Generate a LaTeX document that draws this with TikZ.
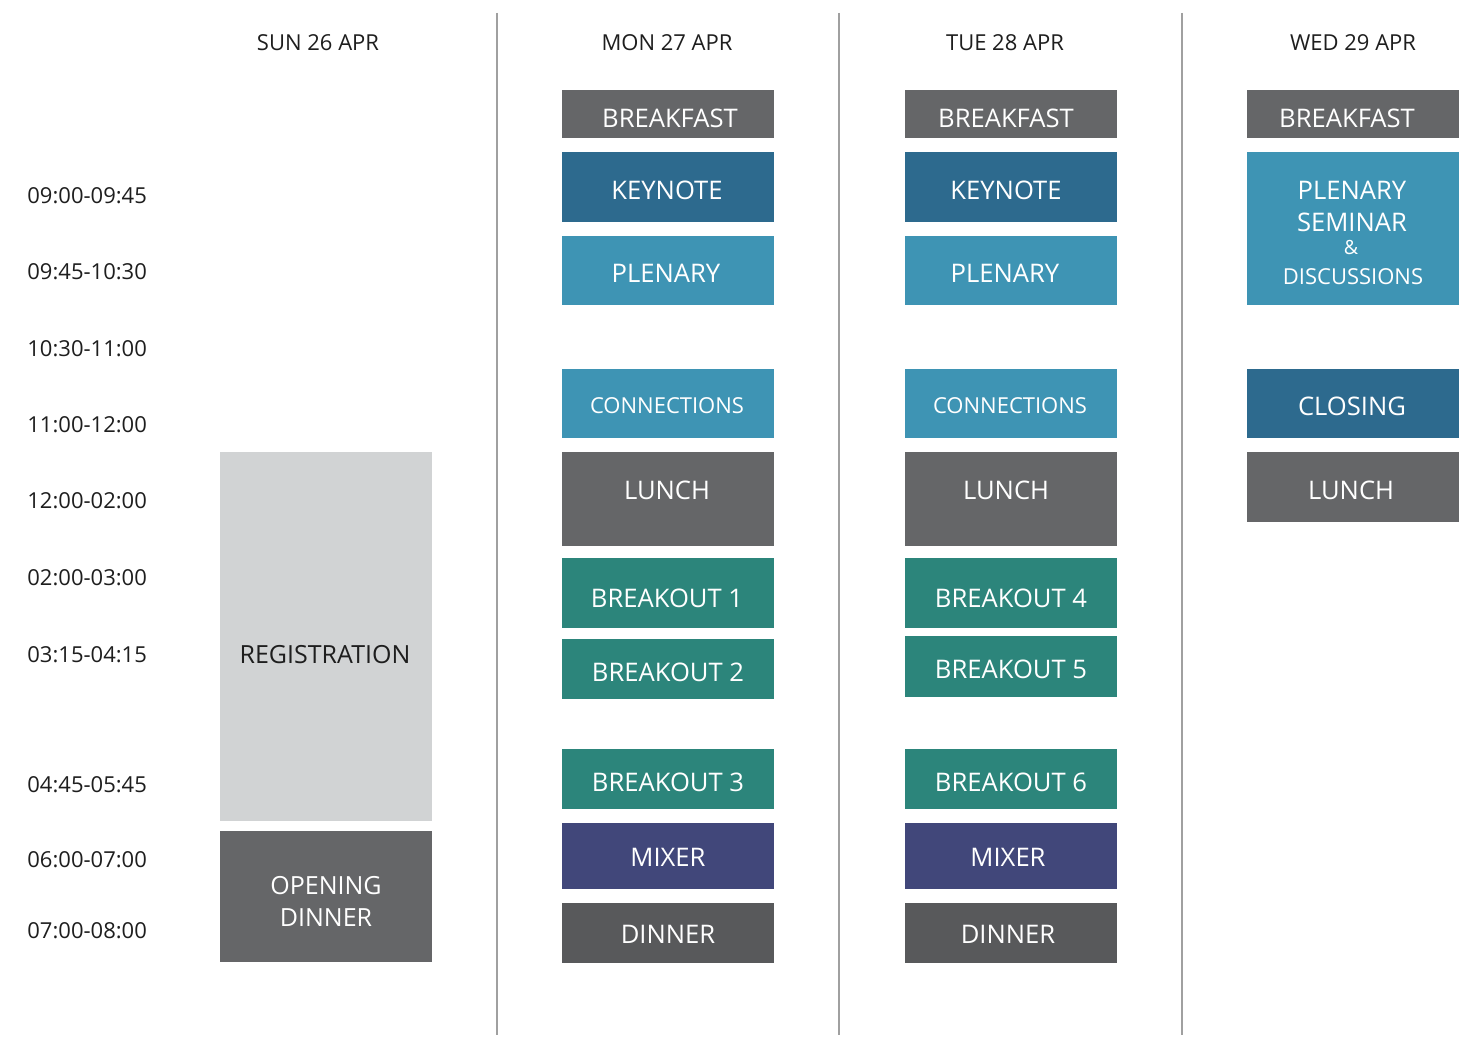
\documentclass[tikz,border=0pt]{standalone}
\usepackage{fontspec}
\setmainfont{Open Sans}
\definecolor{cgray}{HTML}{656668}
\definecolor{cdark}{HTML}{58595B}
\definecolor{ckey}{HTML}{2D6A8E}
\definecolor{cplen}{HTML}{3E94B4}
\definecolor{cteal}{HTML}{2C857B}
\definecolor{cmix}{HTML}{41477A}
\definecolor{creg}{HTML}{D1D3D4}
\definecolor{cline}{HTML}{A0A0A0}
\definecolor{ctext}{HTML}{1E1E1E}
\tikzset{
  slotbox/.style={draw=none, inner sep=0pt, outer sep=0pt},
  slottext/.style={text=white, inner sep=0pt, yshift=-0.5pt, font=\fontsize{12.8}{15}\selectfont},
  smalltext/.style={text=white, inner sep=0pt, yshift=-0.5pt, font=\fontsize{11}{13}\selectfont},
  dayhead/.style={text=ctext, inner sep=0pt, yshift=-0.5pt, font=\fontsize{11}{13}\selectfont},
  timelab/.style={text=ctext, inner sep=0pt, anchor=west, yshift=-0.5pt, font=\fontsize{11}{13}\selectfont},
  divider/.style={draw=cline, line width=1pt}
}
% \slot{name}{x1}{y1}{x2}{y2}{fill}{text}{textx}{texty}
\newcommand{\slot}[9]{%
  \node[slotbox, fill=#6, minimum width={(#4-#2)*0.5pt}, minimum height={(#5-#3)*0.5pt}] (#1) at ({(#2+#4)/2},{(#3+#5)/2}) {};
  \node[slottext] (#1t) at (#8,#9) {#7};
}
\begin{document}
\begin{tikzpicture}[x=0.5pt,y=-0.5pt]
\useasboundingbox[fill=white] (0,0) rectangle (1476,1058);

% dividers
\coordinate (d1a) at (497,13); \coordinate (d1b) at (497,1035);
\coordinate (d2a) at (839,13); \coordinate (d2b) at (839,1035);
\coordinate (d3a) at (1182,13); \coordinate (d3b) at (1182,1035);
\draw[divider] (d1a) -- (d1b);
\draw[divider] (d2a) -- (d2b);
\draw[divider] (d3a) -- (d3b);

% headers
\node[dayhead] (hsun) at (318,42) {SUN 26 APR};
\node[dayhead] (hmon) at (667,42) {MON 27 APR};
\node[dayhead] (htue) at (1005,42) {TUE 28 APR};
\node[dayhead] (hwed) at (1353,42) {WED 29 APR};

% time labels
\node[timelab] (t1) at (27,195) {09:00-09:45};
\node[timelab] (t2) at (27,271) {09:45-10:30};
\node[timelab] (t3) at (27,348) {10:30-11:00};
\node[timelab] (t4) at (27,424) {11:00-12:00};
\node[timelab] (t5) at (27,500) {12:00-02:00};
\node[timelab] (t6) at (27,577) {02:00-03:00};
\node[timelab] (t7) at (27,654) {03:15-04:15};
\node[timelab] (t8) at (27,784) {04:45-05:45};
\node[timelab] (t9) at (27,859) {06:00-07:00};
\node[timelab] (t10) at (27,930) {07:00-08:00};

% SUN
\node[slotbox, fill=creg, minimum width=106pt, minimum height={(821-452)*0.5pt}] (reg) at (325.5,636.5) {};
\node[text=ctext, inner sep=0pt, yshift=-0.5pt, font=\fontsize{12.5}{15}\selectfont] (regt) at (325,654) {REGISTRATION};
\node[slotbox, fill=cgray, minimum width=106pt, minimum height={(962-831)*0.5pt}] (odin) at (325.5,896.5) {};
\node[text=white, inner sep=0pt, align=center, yshift=-0.5pt, font=\fontsize{12.5}{16}\selectfont] (odint) at (326,900) {OPENING\\DINNER};

% MON
\slot{mbf}{562}{90}{774}{138}{cgray}{BREAKFAST}{670}{117}
\slot{mkey}{562}{152}{774}{222}{ckey}{KEYNOTE}{667}{189}
\slot{mplen}{562}{236}{774}{305}{cplen}{PLENARY}{666}{272}
\node[slotbox, fill=cplen, minimum width=106pt, minimum height={(438-369)*0.5pt}] (mcon) at (668,403.5) {};
\node[smalltext] (mcont) at (667,405) {CONNECTIONS};
\slot{mlun}{562}{452}{774}{546}{cgray}{LUNCH}{667}{489}
\slot{mb1}{562}{558}{774}{628}{cteal}{BREAKOUT 1}{667}{597}
\slot{mb2}{562}{639}{774}{699}{cteal}{BREAKOUT 2}{668}{671}
\slot{mb3}{562}{749}{774}{809}{cteal}{BREAKOUT 3}{668}{781}
\slot{mmix}{562}{823}{774}{889}{cmix}{MIXER}{668}{856}
\slot{mdin}{562}{903}{774}{963}{cdark}{DINNER}{668}{933}

% TUE
\slot{tbf}{905}{90}{1117}{138}{cgray}{BREAKFAST}{1006}{117}
\slot{tkey}{905}{152}{1117}{222}{ckey}{KEYNOTE}{1006}{189}
\slot{tplen}{905}{236}{1117}{305}{cplen}{PLENARY}{1005}{272}
\node[slotbox, fill=cplen, minimum width=106pt, minimum height={(438-369)*0.5pt}] (tcon) at (1011,403.5) {};
\node[smalltext] (tcont) at (1010,405) {CONNECTIONS};
\slot{tlun}{905}{452}{1117}{546}{cgray}{LUNCH}{1006}{489}
\slot{tb4}{905}{558}{1117}{628}{cteal}{BREAKOUT 4}{1011}{597}
\slot{tb5}{905}{636}{1117}{697}{cteal}{BREAKOUT 5}{1011}{668}
\slot{tb6}{905}{749}{1117}{809}{cteal}{BREAKOUT 6}{1011}{781}
\slot{tmix}{905}{823}{1117}{889}{cmix}{MIXER}{1008}{856}
\slot{tdin}{905}{903}{1117}{963}{cdark}{DINNER}{1008}{933}

% WED
\slot{wbf}{1247}{90}{1459}{138}{cgray}{BREAKFAST}{1347}{117}
\node[slotbox, fill=cplen, minimum width=106pt, minimum height={(305-152)*0.5pt}] (wsem) at (1353,228.5) {};
\node[slottext] (wsem1) at (1352,189) {PLENARY};
\node[slottext] (wsem2) at (1352,221) {SEMINAR};
\node[text=white, inner sep=0pt, font=\fontsize{9.8}{11}\selectfont] (wsem3) at (1351,247) {\&};
\node[smalltext] (wsem4) at (1353,276) {DISCUSSIONS};
\slot{wclo}{1247}{369}{1459}{438}{ckey}{CLOSING}{1352}{405}
\slot{wlun}{1247}{452}{1459}{522}{cgray}{LUNCH}{1351}{489}
\end{tikzpicture}
\end{document}
